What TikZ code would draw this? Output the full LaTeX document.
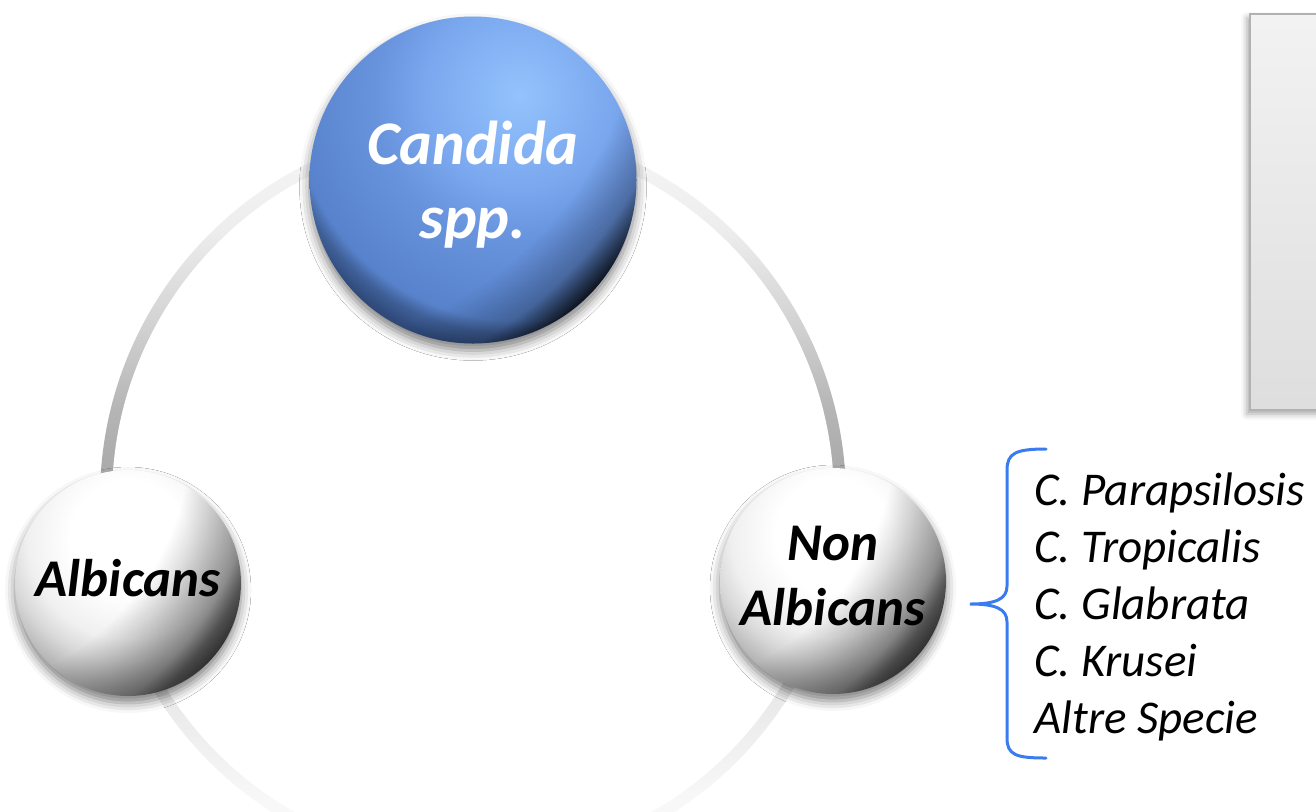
\documentclass[tikz,border=0pt]{standalone}
\usepackage{fontspec}
\setmainfont{Carlito}
\usetikzlibrary{shadows.blur,fadings}

% colours
\definecolor{bA}{HTML}{93C3FD}
\definecolor{bB}{HTML}{7AA7EE}
\definecolor{bC}{HTML}{6792DC}
\definecolor{bD}{HTML}{5883CC}
\definecolor{bE}{HTML}{3F5F97}
\definecolor{bF}{HTML}{2F4A7A}
\definecolor{bG}{HTML}{243C64}
\definecolor{bracecol}{HTML}{3A7CF0}

% grey ring: darkest at mid height, fading out towards top and bottom
\pgfdeclareverticalshading{ringshade}{100bp}{%
  color(0bp)=(black!1); color(25bp)=(black!1); color(30bp)=(black!3);
  color(37bp)=(black!9); color(45bp)=(black!23); color(52bp)=(black!33);
  color(56bp)=(black!29); color(62bp)=(black!17); color(68bp)=(black!7);
  color(75bp)=(black!3); color(100bp)=(black!3)}

% sphere bodies (concentric, centred on the highlight)
\pgfdeclareradialshading{bluebase}{\pgfpointorigin}{%
  color(0bp)=(bA); color(9bp)=(bB); color(14bp)=(bC); color(21.6bp)=(bD);
  color(23bp)=(bE); color(24.5bp)=(bF); color(50bp)=(bG)}
\pgfdeclareradialshading{graybase}{\pgfpointorigin}{%
  color(0bp)=(white); color(8bp)=(white); color(14bp)=(black!6);
  color(17bp)=(black!15); color(20.5bp)=(black!30); color(23bp)=(black!38);
  color(50bp)=(black!46)}

% dark rims on the lower right (white = opaque, black = transparent)
\pgfdeclareradialshading{bluerimmask}{\pgfpointorigin}{%
  color(0bp)=(black); color(19.6bp)=(black); color(22bp)=(black!75);
  color(23.7bp)=(black!8); color(25bp)=(black!6); color(50bp)=(black!6)}
\pgfdeclareradialshading{grayrimmask}{\pgfpointorigin}{%
  color(0bp)=(black); color(16.3bp)=(black); color(18bp)=(black!85);
  color(20.6bp)=(black!60); color(21.6bp)=(black!38); color(22.6bp)=(black!26);
  color(25bp)=(black!22); color(50bp)=(black!22)}
\pgfdeclarefading{bluerim}{\pgfuseshading{bluerimmask}}
\pgfdeclarefading{grayrim}{\pgfuseshading{grayrimmask}}

\tikzset{
  ballshadow/.style={blur shadow={shadow xshift=0pt, shadow yshift=-3.5pt,
      shadow blur radius=5pt, shadow opacity=50}},
  blueball/.style={circle, inner sep=0pt, minimum size=163.5pt, ballshadow,
    path picture={
      \shade[shading=bluebase]
        ([shift={(0.28*163.5,-0.52*163.5)}]path picture bounding box.center)
        circle[radius=1.6*163.5];
      \fill[black, path fading=bluerim]
        ([shift={(-1.3*163.5,-1.3*163.5)}]path picture bounding box.center)
        circle[radius=3*163.5];
    }},
  grayball/.style={circle, inner sep=0pt, minimum size=113pt, ballshadow,
    path picture={
      \shade[shading=graybase]
        ([shift={(0,-0.4*113)}]path picture bounding box.center)
        circle[radius=1.6*113];
      \fill[black, path fading=grayrim]
        ([shift={(-1.786*113,-1.339*113)}]path picture bounding box.center)
        circle[radius=3.57*113];
    }},
  balllabel/.style={font={\fontsize{26.5}{32.5}\selectfont\bfseries\itshape},
    align=center, text depth=5.5pt},
  specieslist/.style={font={\fontsize{23.5}{28.5}\selectfont\itshape},
    align=left, inner sep=0pt},
  panelbox/.style={draw=black!30, line width=1pt, top color=black!5,
    bottom color=black!13, inner sep=0pt,
    blur shadow={shadow xshift=-1.5pt, shadow yshift=-2pt,
      shadow blur radius=3pt, shadow opacity=35}},
  bracestyle/.style={draw=bracecol, line width=1.5pt, line cap=round}
}

\begin{document}
\begin{tikzpicture}[x=0.5pt, y=-0.5pt]
\useasboundingbox (0,0) rectangle (1316,811);

% ring linking the three spheres
\coordinate (ringc) at (473,498);
\shade[shading=ringshade] (ringc) circle[radius=373];
\fill[white] (ringc) circle[radius=361];

% spheres
\node[blueball, text=white, align=center, text depth=0pt,
      font={\fontsize{31}{37}\selectfont\bfseries\itshape}]
  (candida) at (473,180) {Candida\\spp.};
\node[grayball, balllabel] (albicans) at (128,583) {Albicans};
\node[grayball, balllabel] (nonalb) at (833,581) {Non\\Albicans};

% list of non-albicans species with its brace
\node[specieslist, anchor=west] (species) at (1034,607)
  {C. Parapsilosis\\C. Tropicalis\\C. Glabrata\\C. Krusei\\Altre Specie};
\coordinate (brtop) at (1046,449);
\coordinate (brtip) at (970,604);
\coordinate (brbot) at (1046,758);
\draw[bracestyle] (brtop) .. controls (1016,449) and (1007,453) .. (1007,470)
  -- (1007,586) .. controls (1007,599) and (996,604) .. (brtip)
  .. controls (996,604) and (1007,609) .. (1007,622)
  -- (1007,738) .. controls (1007,755) and (1016,758) .. (brbot);

% panel at the top right
\node[panelbox, minimum width=40pt, minimum height=198pt] (panel) at (1290,212) {};
\end{tikzpicture}
\end{document}
